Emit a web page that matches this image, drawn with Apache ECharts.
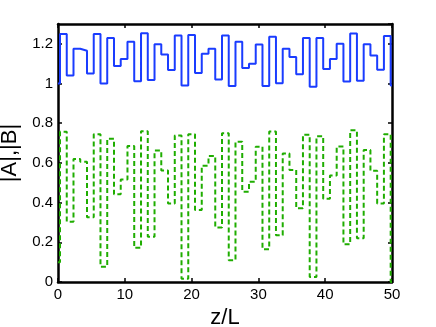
<!DOCTYPE html>
<html lang="en">

<head>
  <meta charset="UTF-8">
  <title>|A|,|B| vs z/L</title>
  <script src="https://cdn.jsdelivr.net/npm/echarts@6.0.0/dist/echarts.min.js"></script>
  <style>
    html, body { margin: 0; padding: 0; background: #fff; }
    #main { width: 436px; height: 327px; }
  </style>
</head>

<body>
  <div id="main"></div>
  <script>
    // start of each layer along z/L (last entry is the right edge)
    var zStart = [0, 0.3, 1.31, 2.32, 3.33, 4.34, 5.35, 6.36, 7.37, 8.38, 9.39,
      10.4, 11.41, 12.43, 13.44, 14.45, 15.46, 16.47, 17.48, 18.49, 19.5,
      20.51, 21.52, 22.53, 23.54, 24.55, 25.56, 26.57, 27.58, 28.59, 29.6,
      30.61, 31.62, 32.63, 33.64, 34.65, 35.66, 36.67, 37.68, 38.69, 39.7,
      40.71, 41.72, 42.73, 43.74, 44.75, 45.76, 46.77, 47.78, 48.79, 49.8, 50]
    // |A| (blue solid)
    var absA = [1.0, 1.25, 1.04, 1.175, 1.165, 1.05, 1.25, 1.0, 1.23, 1.088, 1.124,
      1.21, 1.012, 1.254, 1.018, 1.198, 1.146, 1.068, 1.242, 0.99, 1.244,
      1.053, 1.15, 1.175, 1.02, 1.242, 0.988, 1.21, 1.078, 1.1, 1.197,
      0.988, 1.236, 1.002, 1.175, 1.134, 1.047, 1.23, 0.984, 1.229, 1.073,
      1.124, 1.2, 1.01, 1.252, 1.014, 1.198, 1.141, 1.07, 1.24, 0.99]
    // |B| (green dashed)
    var absB = [0.1, 0.757, 0.304, 0.62, 0.606, 0.326, 0.745, 0.077, 0.722, 0.442, 0.517,
      0.685, 0.172, 0.76, 0.228, 0.662, 0.562, 0.396, 0.738, 0.016, 0.744,
      0.363, 0.586, 0.635, 0.275, 0.75, 0.11, 0.707, 0.455, 0.505, 0.682,
      0.165, 0.758, 0.236, 0.648, 0.564, 0.371, 0.742, 0.025, 0.735, 0.42,
      0.536, 0.683, 0.19, 0.765, 0.22, 0.665, 0.56, 0.396, 0.745, 0.0]
    var xTicks = [0, 10, 20, 30, 40, 50]
    var yTicks = [0, 0.2, 0.4, 0.6, 0.8, 1, 1.2]

    function steps(vals) {
      var pts = vals.map((v, i) => [zStart[i], v])
      pts.push([zStart[zStart.length - 1], vals[vals.length - 1]])
      return pts
    }

    var font = 'Liberation Sans, Arial, sans-serif'
    var myChart = echarts.init(document.getElementById('main'))

    var axisCommon = {
      axisLine: { show: true, onZero: false, lineStyle: { color: '#000', width: 2.5 } },
      axisTick: { show: true, inside: true, length: 4, lineStyle: { color: '#000', width: 1.5 } },
      splitLine: { show: false }
    }

    var option = {
      animation: false,
      grid: { left: 58, right: 44, top: 24, bottom: 45, containLabel: false, outerBoundsMode: 'none' },
      xAxis: [
        Object.assign({
          type: 'value', min: 0, max: 50, interval: 10,
          name: 'z/L', nameLocation: 'middle', nameGap: 20,
          nameTextStyle: { fontFamily: font, fontSize: 22, color: '#000' },
          axisLabel: { fontFamily: font, fontSize: 15, color: '#000', margin: 5,
            formatter: v => xTicks.indexOf(v) >= 0 ? String(v) : '' }
        }, axisCommon),
        Object.assign({
          type: 'value', min: 0, max: 50, interval: 10, position: 'top',
          axisLabel: { show: false }
        }, axisCommon)
      ],
      yAxis: [
        Object.assign({
          type: 'value', min: 0, max: 1.3, interval: 0.2,
          name: '|A|,|B|', nameLocation: 'middle', nameGap: 32,
          nameTextStyle: { fontFamily: font, fontSize: 22, color: '#000' },
          axisLabel: { fontFamily: font, fontSize: 15, color: '#000', margin: 5,
            showMaxLabel: false,
            formatter: v => {
              var t = yTicks.find(y => Math.abs(y - v) < 1e-6)
              return t === undefined ? '' : String(t)
            } }
        }, axisCommon),
        Object.assign({
          type: 'value', min: 0, max: 1.3, interval: 0.2, position: 'right',
          axisLabel: { show: false }
        }, axisCommon)
      ],
      series: [
        {
          name: '|A|', type: 'line', step: 'end',
          data: steps(absA), symbol: 'none',
          lineStyle: { color: '#1a3cff', width: 2 }
        },
        {
          name: '|B|', type: 'line', step: 'end',
          data: steps(absB), symbol: 'none',
          lineStyle: { color: '#1fad00', width: 2, type: [5, 3] }
        }
      ]
    }
    myChart.setOption(option)
  </script>
</body>

</html>
